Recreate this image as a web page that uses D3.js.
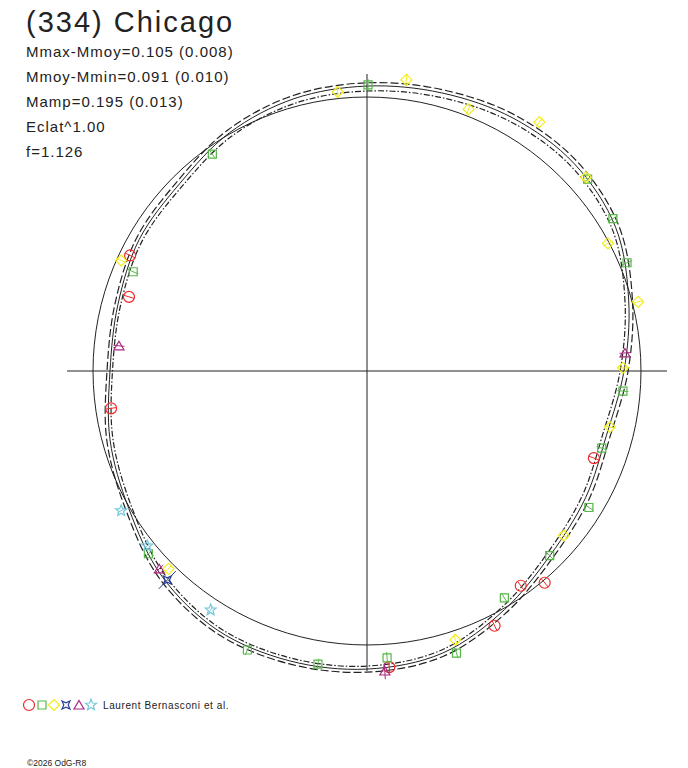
<!DOCTYPE html>
<html lang="en">
<head>
<meta charset="utf-8">
<title>(334) Chicago</title>
<script src="https://d3js.org/d3.v7.min.js"></script>
<style>
  body { margin: 0; background: #fff; }
  text { font-family: "Liberation Sans", Arial, sans-serif; fill: #222; }
</style>
</head>
<body>
<script>
var w = 688, h = 768;

var title = "(334) Chicago";
var infoLines = ["Mmax-Mmoy=0.105 (0.008)", "Mmoy-Mmin=0.091 (0.010)", "Mamp=0.195 (0.013)", "Eclat^1.00", "f=1.126"];
var credit = "Laurent Bernasconi et al.";
var copyright = "\u00a92026 OdG-R8";

// fitted lightcurve: phase angle (deg, counterclockwise from +x) -> relative radius
var fitAngles = [0, 15, 30, 45, 60, 75, 90, 105, 120, 135, 150, 165, 180, 195, 210, 225, 240, 255, 270, 285, 300, 315, 330, 345];
var fitMid = [0.938, 0.989, 1.048, 1.070, 1.066, 1.051, 1.040, 1.029, 1.004, 0.967, 0.960, 0.941, 0.938, 0.971, 1.004, 1.059, 1.092, 1.095, 1.088, 1.066, 1.005, 0.948, 0.922, 0.905];
var fitHi  = [0.953, 1.003, 1.061, 1.083, 1.079, 1.063, 1.052, 1.041, 1.016, 0.979, 0.971, 0.952, 0.949, 0.983, 1.016, 1.071, 1.103, 1.106, 1.099, 1.078, 1.018, 0.961, 0.936, 0.919];
var fitLo  = [0.924, 0.975, 1.034, 1.055, 1.050, 1.034, 1.022, 1.012, 0.989, 0.954, 0.948, 0.931, 0.929, 0.960, 0.992, 1.047, 1.081, 1.084, 1.077, 1.054, 0.992, 0.935, 0.908, 0.891];
var refRadius = 1.0;
var axisExtent = 1.095;

// measured points per session: [angle deg, relative radius, error]
var s1 = [[154.0, 0.962, 0.02], [162.7, 0.910, 0.02], [188.3, 0.944, 0.02], [339.0, 0.887, 0.02], [310.0, 1.009, 0.02], [305.6, 0.964, 0.02], [296.6, 1.040, 0.02], [274.3, 1.084, 0.02]];
var s2 = [[89.8, 1.044, 0.022], [125.5, 0.972, 0.015], [157.0, 0.927, 0.02], [31.8, 1.056, 0.02], [41.0, 1.067, 0.02], [22.6, 1.028, 0.02], [355.5, 0.937, 0.02], [341.8, 0.902, 0.02], [328.4, 0.951, 0.02], [314.7, 0.948, 0.02], [301.2, 0.968, 0.02], [287.6, 1.080, 0.02], [274.0, 1.050, 0.022], [260.5, 1.085, 0.02], [246.8, 1.108, 0.02], [219.9, 1.040, 0.015]];
var s3 = [[82.3, 1.072, 0.022], [96.0, 1.024, 0.02], [68.8, 1.025, 0.02], [55.3, 1.105, 0.02], [41.5, 1.067, 0.02], [27.9, 0.995, 0.02], [14.3, 1.021, 0.02], [0.7, 0.934, 0.02], [347.0, 0.910, 0.02], [320.1, 0.936, 0.02], [288.2, 1.033, 0.02], [224.9, 1.023, 0.02], [155.8, 0.984, 0.02]];
var s4 = [[226.3, 1.055, 0.045]];
var s5 = [[174.2, 0.910, 0.02], [4.0, 0.944, 0.02], [273.4, 1.097, 0.03], [223.6, 1.047, 0.02]];
var s6 = [[209.6, 1.032, 0.015], [218.5, 1.025, 0.015], [236.8, 1.042, 0.015]];

var sessionColors = ["#ee2a2a", "#55b848", "#f2ee1a", "#2a3f9a", "#a8287e", "#74c8dc"];
var sessionShapes = ["circle", "square", "diamond", "star4", "triangle", "star5"];
var sessionData = [s1, s2, s3, s4, s5, s6];

var svg = d3.select("body").append("svg")
    .attr("width", w)
    .attr("height", h);

var x = d3.scaleLinear().domain([-axisExtent, axisExtent]).range([67, 667]);
var y = d3.scaleLinear().domain([-axisExtent, axisExtent]).range([671, 71]);

var rad = function(a){ return a * Math.PI / 180; };
var px = function(a, r){ return x(r * Math.cos(rad(a))); };
var py = function(a, r){ return y(r * Math.sin(rad(a))); };

// axes
svg.append("line")
    .attr("x1", x(-axisExtent)).attr("x2", x(axisExtent))
    .attr("y1", y(0)).attr("y2", y(0))
    .attr("stroke", "#222").attr("stroke-width", 1);
svg.append("line")
    .attr("x1", x(0)).attr("x2", x(0))
    .attr("y1", y(axisExtent) + 3).attr("y2", y(-axisExtent))
    .attr("stroke", "#222").attr("stroke-width", 1);

// reference circle
svg.append("ellipse")
    .attr("cx", x(0)).attr("cy", y(0))
    .attr("rx", x(refRadius) - x(0))
    .attr("ry", y(0) - y(refRadius))
    .attr("fill", "none").attr("stroke", "#222").attr("stroke-width", 1);

// fitted curves
var curve = d3.line()
    .x(function(d){ return px(d[0], d[1]); })
    .y(function(d){ return py(d[0], d[1]); })
    .curve(d3.curveCatmullRomClosed);

function drawFit(values, dash, width){
    var pts = fitAngles.map(function(a, i){ return [a, values[i]]; });
    svg.append("path")
        .attr("d", curve(pts))
        .attr("fill", "none")
        .attr("stroke", "#222")
        .attr("stroke-width", width)
        .attr("stroke-dasharray", dash);
}
drawFit(fitHi, "8,3", 1.2);
drawFit(fitMid, null, 1);
drawFit(fitLo, "6,2,1.5,2", 1.2);

// marker shapes
function shapePath(shape){
    if (shape == "circle") return d3.symbol(d3.symbolCircle, 95)();
    if (shape == "square") return "M-4,-4L4,-4L4,4L-4,4Z";
    if (shape == "diamond") return "M0,-5.5L5.5,0L0,5.5L-5.5,0Z";
    if (shape == "star4") return "M-4,-4L0,-2.2L4,-4L2.2,0L4,4L0,2.2L-4,4L-2.2,0Z";
    if (shape == "triangle") return "M0,-4.5L5,4L-5,4Z";
    var p = [];
    for (var k = 0; k < 10; k++){
        var rr = (k % 2 == 0) ? 5.8 : 2.5;
        var an = -Math.PI / 2 + k * Math.PI / 5;
        p.push([rr * Math.cos(an), rr * Math.sin(an)]);
    }
    return "M" + p.join("L") + "Z";
}

// data points
sessionData.forEach(function(data, si){
    var col = sessionColors[si];
    var g = svg.append("g");
    g.selectAll("line")
        .data(data)
        .enter()
        .append("line")
        .attr("x1", function(d){ return px(d[0], d[1] - d[2]); })
        .attr("y1", function(d){ return py(d[0], d[1] - d[2]); })
        .attr("x2", function(d){ return px(d[0], d[1] + d[2]); })
        .attr("y2", function(d){ return py(d[0], d[1] + d[2]); })
        .attr("stroke", col).attr("stroke-width", 1);
    g.selectAll("path")
        .data(data)
        .enter()
        .append("path")
        .attr("d", shapePath(sessionShapes[si]))
        .attr("transform", function(d){ return "translate(" + px(d[0], d[1]) + "," + py(d[0], d[1]) + ")"; })
        .attr("fill", "none")
        .attr("stroke", col)
        .attr("stroke-width", 1.2);
});

// texts
svg.append("text")
    .attr("x", 26).attr("y", 32)
    .style("font-size", "29px")
    .style("letter-spacing", "2px")
    .text(title);

svg.selectAll("text.info")
    .data(infoLines)
    .enter()
    .append("text")
    .attr("class", "info")
    .attr("x", 26)
    .attr("y", function(d, i){ return 57 + i * 25; })
    .style("font-size", "15px")
    .style("letter-spacing", "1px")
    .text(function(d){ return d; });

// legend
var legendX = [29, 42, 54, 66, 79, 91];
svg.selectAll("path.legend")
    .data(sessionShapes)
    .enter()
    .append("path")
    .attr("class", "legend")
    .attr("d", function(d){ return shapePath(d); })
    .attr("transform", function(d, i){ return "translate(" + legendX[i] + ",705)"; })
    .attr("fill", "none")
    .attr("stroke", function(d, i){ return sessionColors[i]; })
    .attr("stroke-width", 1.2);

svg.append("text")
    .attr("x", 103).attr("y", 709)
    .style("font-size", "10px")
    .style("letter-spacing", "0.6px")
    .text(credit);

svg.append("text")
    .attr("x", 27).attr("y", 766)
    .style("font-size", "8.5px")
    .text(copyright);
</script>
</body>
</html>
